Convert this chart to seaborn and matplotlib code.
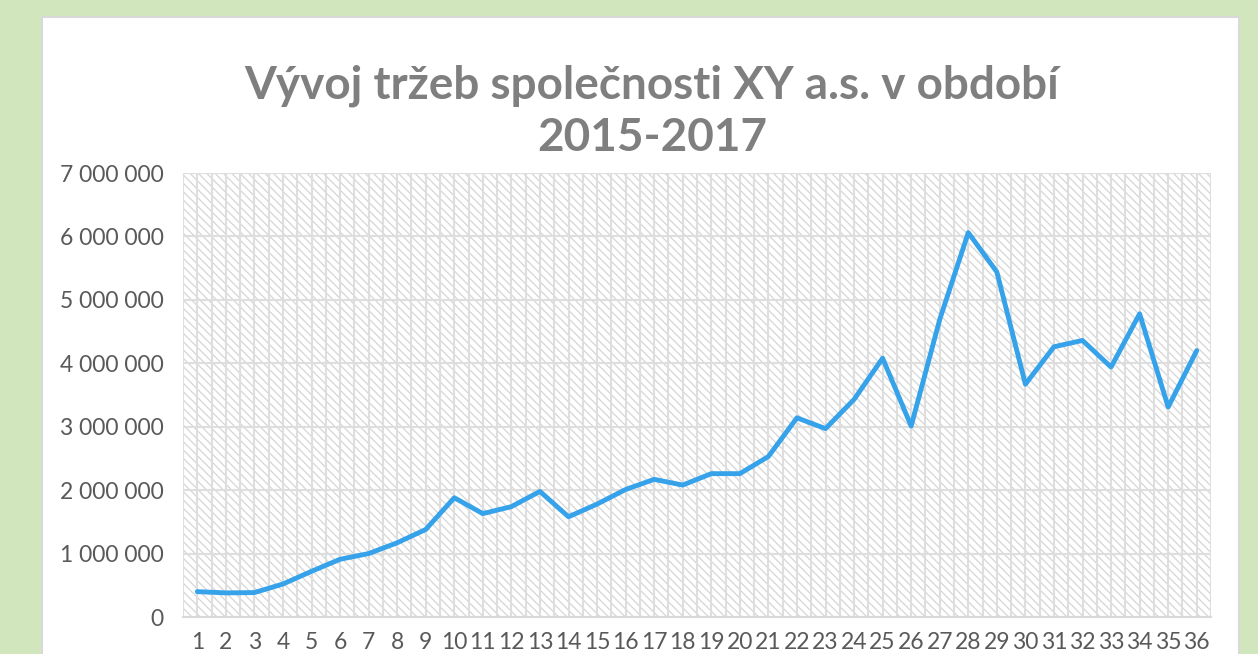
import pandas as pd
import matplotlib.pyplot as plt
import matplotlib.ticker as mticker
from matplotlib.patches import Rectangle
import seaborn as sns

# Tržby po měsících (1-36 = 2015-2017)
mesice = list(range(1, 37))
trzby = [400000, 380000, 385000, 520000, 720000, 910000, 1000000, 1170000, 1380000,
         1880000, 1630000, 1740000, 1980000, 1580000, 1780000, 2010000, 2170000, 2080000,
         2260000, 2260000, 2530000, 3140000, 2970000, 3430000, 4080000, 3010000, 4690000,
         6060000, 5440000, 3670000, 4260000, 4360000, 3940000, 4780000, 3310000, 4200000]
titulek = "Vývoj tržeb společnosti XY a.s. v období\n2015-2017"

df = pd.DataFrame({"mesic": mesice, "trzby": trzby})

sns.set_style("white")
plt.rcParams['font.family'] = ['Lato', 'DejaVu Sans']
plt.rcParams['hatch.linewidth'] = 0.9
plt.rcParams['hatch.color'] = "#d6d6d6"

fig = plt.figure(figsize=(12.58, 6.54), dpi=100, facecolor="#d1e6bd")
# bílý panel grafu
panel = Rectangle((42 / 1258, -0.1), (1239 - 42) / 1258, 1.1 - 17 / 654,
                  transform=fig.transFigure, facecolor="white",
                  edgecolor="#d9d9d9", linewidth=1.5, zorder=-5)
fig.patches.append(panel)

ax = fig.add_axes([183 / 1258, 1 - 617 / 654, (1211 - 183) / 1258, (617 - 173) / 654])
ax.set_zorder(2)
ax.patch.set_facecolor("white")
ax.patch.set_hatch("\\\\\\\\")
ax.patch.set_edgecolor("#d6d6d6")

sns.lineplot(data=df, x="mesic", y="trzby", ax=ax, color="#36a2ea", linewidth=3.5, zorder=3)

ax.set_xlim(0.5, 36.5)
ax.set_ylim(0, 7000000)
ax.set_xticks(mesice)
ax.xaxis.set_minor_locator(mticker.FixedLocator([m + 0.5 for m in range(0, 37)]))
ax.yaxis.set_major_locator(mticker.MultipleLocator(1000000))
ax.yaxis.set_major_formatter(mticker.FuncFormatter(lambda v, p: f"{int(v):,}".replace(",", " ")))
ax.grid(True, which="major", axis="y", color="#dedede", linewidth=1.5, zorder=1)
ax.grid(True, which="both", axis="x", color="#dedede", linewidth=1.5, zorder=1)
ax.set_axisbelow(True)

ax.tick_params(axis="both", which="both", length=0, labelsize=16.5, labelcolor="#595959")
ax.tick_params(axis="y", pad=14)
ax.tick_params(axis="x", pad=11)
ax.set_xlabel("")
ax.set_ylabel("")
for s in ["top", "right", "left"]:
    ax.spines[s].set_visible(False)
ax.spines["bottom"].set_color("#d9d9d9")
ax.spines["bottom"].set_linewidth(1.5)

fig.text(652 / 1258, 1 - 112 / 654, titulek, ha="center", va="center", fontsize=33,
         fontweight="bold", color="#7f7f7f", linespacing=1.3)

fig.savefig("out.png", dpi=100, facecolor=fig.get_facecolor())
